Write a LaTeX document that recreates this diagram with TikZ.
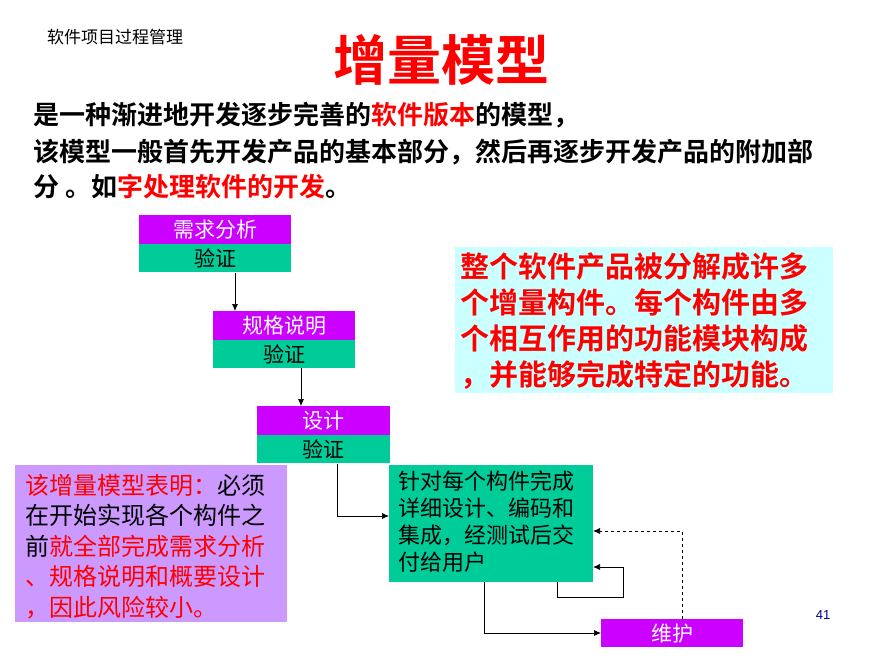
\documentclass[tikz,border=0pt]{standalone}
\usepackage{fontspec}
\usetikzlibrary{arrows.meta}
\setmainfont{Liberation Sans}
\newfontfamily\cjk{Noto Sans CJK SC}
\newfontfamily\cjkb{Noto Sans CJK SC Bold}
\definecolor{pur}{RGB}{204,0,255}
\definecolor{grn}{RGB}{0,204,153}
\definecolor{cyn}{RGB}{204,255,255}
\definecolor{lav}{RGB}{204,153,255}
\definecolor{rd}{RGB}{255,0,0}
\begin{document}
\begin{tikzpicture}[x=1pt,y=-1pt,
  top/.style={fill=pur,text=white,font=\cjk\fontsize{21}{22}\selectfont,minimum height=29pt,inner sep=0pt,anchor=north west},
  ver/.style={fill=grn,text=black,font=\cjk\fontsize{21}{22}\selectfont,minimum height=28pt,inner sep=0pt,anchor=north west},
  arr/.style={-{Latex[length=7pt,width=6pt]},black,line width=0.7pt}]
\useasboundingbox (0,0) rectangle (879,657);
\fill[white] (0,0) rectangle (879,657);
\node[anchor=west,font=\cjk\fontsize{17}{18}\selectfont,inner sep=0pt] (hdr) at (47,37) {软件项目过程管理};
\node[text=rd,font=\cjkb\fontsize{54}{58}\selectfont] (title) at (441,60) {增量模型};
\node[anchor=west,font=\cjkb\fontsize{26}{28}\selectfont,inner sep=0pt] (l1) at (33,115) {是一种渐进地开发逐步完善的\textcolor{rd}{软件版本}的模型，};
\node[anchor=west,font=\cjkb\fontsize{26}{28}\selectfont,inner sep=0pt] (l2) at (33,152) {该模型一般首先开发产品的基本部分，然后再逐步开发产品的附加部};
\node[anchor=west,font=\cjkb\fontsize{26}{28}\selectfont,inner sep=0pt] (l3) at (33,187) {分 。如\textcolor{rd}{字处理软件的开发}。};
\node[top,minimum width=152pt] (r1) at (139,215) {需求分析};
\node[ver,minimum width=152pt] (v1) at (139,244) {验证};
\node[top,minimum width=142pt] (r2) at (213,311) {规格说明};
\node[ver,minimum width=142pt] (v2) at (213,340) {验证};
\node[top,minimum width=133pt] (r3) at (257,406) {设计};
\node[ver,minimum width=133pt] (v3) at (257,435) {验证};
\node[fill=grn,anchor=north west,minimum width=204pt,minimum height=117pt,inner sep=0pt] (big) at (389,465) {};
\node[anchor=north west,align=left,font=\cjk\fontsize{22}{27}\selectfont,inner sep=0pt] (bigt) at (398,471) {针对每个构件完成\\详细设计、编码和\\集成，经测试后交\\付给用户};
\node[top,minimum width=142pt,minimum height=28pt] (wh) at (601,619) {维护};
\node[fill=cyn,anchor=north west,minimum width=378pt,minimum height=146pt,inner sep=0pt] (cy) at (455,247) {};
\node[anchor=north west,align=left,text=rd,font=\cjkb\fontsize{29}{36}\selectfont,inner sep=0pt] (cyt) at (460,252) {整个软件产品被分解成许多\\个增量构件。每个构件由多\\个相互作用的功能模块构成\\，并能够完成特定的功能。};
\node[fill=lav,anchor=north west,minimum width=272pt,minimum height=157pt,inner sep=0pt] (lv) at (15,465) {};
\node[anchor=north west,align=left,font=\cjk\fontsize{24}{30.5}\selectfont,inner sep=0pt] (lvt) at (25,474) {\textcolor{rd}{该增量模型表明：}必须\\在开始实现各个构件之\\前\textcolor{rd}{就全部完成需求分析}\\\textcolor{rd}{、规格说明和概要设计}\\\textcolor{rd}{，因此风险较小。}};
\node[text=blue!60!black,font=\fontsize{13}{15}\selectfont] (pg) at (823,615) {41};
\draw[arr] (235,273) -- (235,311);
\draw[arr] (301,368) -- (301,406);
\draw[arr] (337,464) |- (389,516);
\draw[arr] (557,582) -- (557,597) -- (623,597) -- (623,567) -- (593,567);
\draw[arr] (484,582) |- (601,633);
\draw[arr,dashed] (682,619) -- (682,531) -- (593,531);
\end{tikzpicture}
\end{document}
